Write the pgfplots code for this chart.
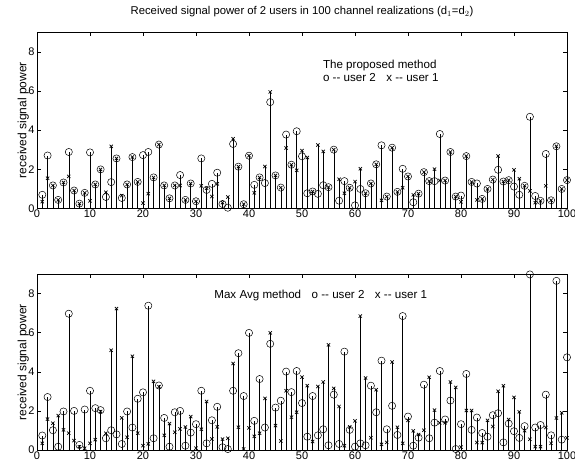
\documentclass[border=0pt]{standalone}
\usepackage{pgfplots}
\pgfplotsset{compat=1.18}
\usepackage{pgfplotstable}
\usepackage{fontspec}
\setmainfont{Liberation Sans}

% i, proposed (user 2, user 1), max avg (user 2, user 1)
\pgfplotstableread{
i  ta   tb   ba   bb
1  0.69 0.34 0.74 0.34
2  2.70 1.54 2.71 1.58
3  1.17 1.17 1.01 1.37
4  0.43 0.43 0.17 1.76
5  1.32 1.32 1.97 1.03
6  2.88 1.63 6.97 0.86
7  0.91 0.91 2.00 0.48
8  0.24 0.24 0.26 0.17
9  0.79 0.79 2.07 0.09
10 2.86 0.38 3.03 0.34
11 1.22 1.22 2.14 0.53
12 1.99 1.99 2.04 1.97
13 0.58 0.82 0.60 0.86
14 1.34 3.17 1.01 5.10
15 2.55 2.55 0.80 7.23
16 0.53 0.65 0.31 1.64
17 1.22 1.22 1.97 0.65
18 2.62 2.62 1.15 4.79
19 1.35 1.35 2.62 0.86
20 2.72 0.27 2.95 0.22
21 2.88 0.75 7.38 0.31
22 1.58 1.58 0.60 3.51
23 3.26 3.26 3.30 3.24
24 1.17 1.17 1.64 0.75
25 0.51 0.51 0.17 1.35
26 1.17 1.17 1.93 0.91
27 1.70 1.17 2.00 1.08
28 0.43 0.43 0.22 1.18
29 1.27 1.27 0.89 1.71
30 0.36 0.36 1.32 0.09
31 2.55 1.15 3.03 1.06
32 0.94 1.03 0.34 2.48
33 1.25 0.60 1.52 0.56
34 1.82 1.25 2.21 1.18
35 0.22 0.29 0.14 0.56
36 0.03 0.58 0.05 0.60
37 3.29 3.56 3.03 4.42
38 2.13 2.13 4.95 1.16
39 0.21 0.21 2.76 0.05
40 2.69 2.69 5.99 1.13
41 1.20 0.79 1.49 0.70
42 1.58 1.58 3.63 0.86
43 1.29 2.14 1.15 2.64
44 5.43 5.95 5.43 5.99
45 1.68 1.68 2.17 1.25
46 1.06 1.06 2.52 0.46
47 3.77 3.08 4.01 3.03
48 2.23 2.23 2.96 1.68
49 3.94 1.94 4.04 1.93
50 2.66 2.95 2.40 3.73
51 0.77 2.60 0.68 3.29
52 0.86 0.86 2.76 0.43
53 0.74 3.24 0.75 3.25
54 1.18 2.91 1.06 3.48
55 1.08 1.08 0.24 5.38
56 3.00 3.00 2.83 3.15
57 0.39 1.49 0.31 2.23
58 1.39 0.77 5.03 0.22
59 1.05 1.05 1.03 1.18
60 0.15 1.37 0.17 1.49
61 0.99 2.02 0.34 6.85
62 0.77 0.77 0.24 3.68
63 1.27 1.27 3.29 0.63
64 2.25 2.25 1.93 3.08
65 3.22 0.41 4.57 0.29
66 0.60 0.60 1.06 0.39
67 3.10 3.10 2.26 4.50
68 0.84 0.84 0.77 1.16
69 2.02 1.05 6.85 0.34
70 1.63 1.63 1.71 1.51
71 0.31 0.69 0.22 0.98
72 0.75 0.75 0.63 0.79
73 1.85 1.85 3.34 1.01
74 1.39 1.39 0.60 3.72
75 1.39 2.00 1.40 2.04
76 3.80 1.42 4.04 1.39
77 1.42 1.42 1.56 1.39
78 2.88 2.88 2.53 3.48
79 0.60 0.60 0.05 3.20
80 0.65 0.33 1.32 0.15
81 2.67 2.67 3.89 2.02
82 1.35 1.35 1.03 2.02
83 1.27 0.43 1.66 0.38
84 0.48 0.48 0.87 0.38
85 0.99 0.99 0.68 1.52
86 1.47 1.47 1.78 1.20
87 1.97 2.67 1.88 3.00
88 1.37 1.37 0.39 3.29
89 1.44 1.44 1.35 1.56
90 1.11 1.97 0.96 2.69
91 0.69 1.51 0.62 1.95
92 1.15 1.15 1.22 0.99
93 4.68 0.89 8.98 0.55
94 0.63 0.29 1.15 0.17
95 0.38 0.38 1.28 0.17
96 2.78 1.15 2.83 1.15
97 0.41 0.41 0.75 0.34
98 3.17 3.17 8.65 1.64
99 0.99 0.99 0.53 1.90
100 1.44 1.44 4.74 0.62
}\data

\pgfplotsset{
  stempanel/.style={
    width=530pt, height=176pt, scale only axis,
    anchor=south west,
    xmin=0, xmax=100, ymin=0, ymax=9,
    xtick={0,10,...,100}, ytick={0,2,4,6,8},
    tick align=inside, tick pos=both,
    major tick length=4pt,
    tick style={black, line width=0.5pt},
    axis line style={line width=0.6pt},
    ticklabel style={font=\fontsize{11}{13}\selectfont},
    xticklabel style={yshift=2pt},
    yticklabel style={xshift=1pt},
    /pgf/number format/assume math mode=true,
    ylabel={received signal power},
    ylabel style={font=\fontsize{12}{14}\selectfont, inner sep=0pt,
      at={(axis description cs:-0.015,0.5)}, anchor=south},
    clip=false,
  },
  user2/.style={ycomb, black, line width=0.6pt, mark=o, mark size=3.6pt,
    mark options={solid, line width=0.5pt}},
  user1/.style={ycomb, black, line width=0.6pt, mark=x, mark size=2.3pt,
    mark options={solid, line width=0.7pt}},
}

\begin{document}
\begin{tikzpicture}
\useasboundingbox (0,0) rectangle (575pt,466pt);

\begin{axis}[stempanel, at={(37pt,257.7pt)},
  title={Received signal power of 2 users in 100 channel realizations (d$_1$=d$_2$)},
  title style={font=\fontsize{11.3}{13}\selectfont, yshift=6pt}]
\addplot[user2] table[x=i, y=ta] {\data};
\addplot[user1] table[x=i, y=tb] {\data};
\node[anchor=west, font=\fontsize{11.6}{13}\selectfont, align=left]
  at (axis cs:53.3,7.05) {The proposed method\\o -{}- user 2\hspace{0.9em}x -{}- user 1};
\end{axis}

\begin{axis}[stempanel, at={(37pt,16pt)}]
\addplot[user2] table[x=i, y=ba] {\data};
\addplot[user1] table[x=i, y=bb] {\data};
\node[anchor=west, font=\fontsize{11.6}{13}\selectfont]
  at (axis cs:32.8,7.88) {Max Avg method\hspace{0.9em}o -{}- user 2\hspace{0.9em}x -{}- user 1};
\end{axis}
\end{tikzpicture}
\end{document}
